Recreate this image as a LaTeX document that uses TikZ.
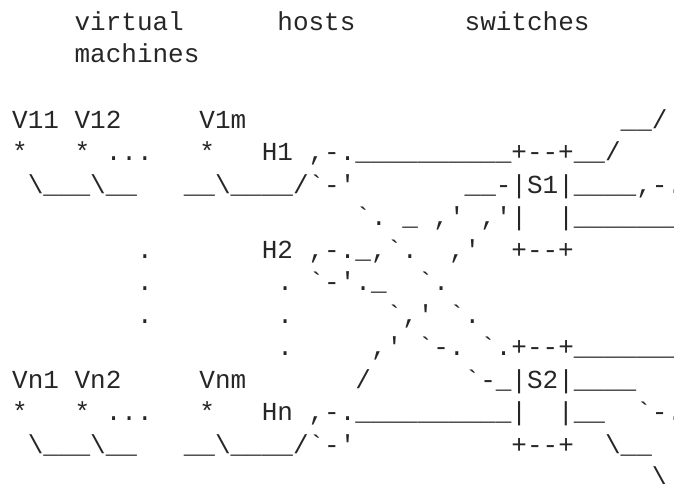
\documentclass[tikz,border=0pt]{standalone}
\usepackage{fontspec}
\setmonofont{Liberation Mono}
% one blank character cell of the monospaced font, repeated #1 times
\newcommand\gap[1]{\hspace*{\dimexpr 0.6001em*#1\relax}}
\newcommand\bs{\textbackslash}
\begin{document}
\begin{tikzpicture}[x=1pt,y=1pt,
  asciirow/.style={inner sep=0pt,outer sep=0pt,anchor=base west,text=black!85,
    font=\ttfamily\fontsize{26pt}{32.5pt}\selectfont}]
\useasboundingbox (0,0) rectangle (674,483);
\clip (0,0) rectangle (674,483);
% rows of the drawing; row r sits on baseline 483-(30.5+32.5r)
\node[asciirow] (r0) at (12.2,452.5) {\gap{4}virtual\gap{6}hosts\gap{7}switches};
\node[asciirow] (r1) at (12.2,420) {\gap{4}machines};
\node[asciirow] (r3) at (12.2,355) {V11\gap{1}V12\gap{5}V1m\gap{24}\_\_/};
\node[asciirow] (r4) at (12.2,322.5) {*\gap{3}*\gap{1}...\gap{3}*\gap{3}H1\gap{1},-.\_\_\_\_\_\_\_\_\_\_+--+\_\_/};
\node[asciirow] (r5) at (12.2,290) {\gap{1}\bs\_\_\_\bs\_\_\gap{3}\_\_\bs\_\_\_\_/`-'\gap{7}\_\_-|S1|\_\_\_\_,-.};
\node[asciirow] (r6) at (12.2,257.5) {\gap{22}`.\gap{1}\_\gap{1},'\gap{1},'|\gap{2}|\_\_\_\_\_\_\_\_};
\node[asciirow] (r7) at (12.2,225) {\gap{8}.\gap{7}H2\gap{1},-.\_,`.\gap{2},'\gap{2}+--+};
\node[asciirow] (r8) at (12.2,192.5) {\gap{8}.\gap{8}.\gap{1}`-'.\_\gap{2}`.};
\node[asciirow] (r9) at (12.2,160) {\gap{8}.\gap{8}.\gap{6}`,'\gap{1}`.};
\node[asciirow] (r10) at (12.2,127.5) {\gap{17}.\gap{5},'\gap{1}`-.\gap{1}`.+--+\_\_\_\_\_\_\_\_};
\node[asciirow] (r11) at (12.2,95) {Vn1\gap{1}Vn2\gap{5}Vnm\gap{7}/\gap{6}`-\_|S2|\_\_\_\_};
\node[asciirow] (r12) at (12.2,62.5) {*\gap{3}*\gap{1}...\gap{3}*\gap{3}Hn\gap{1},-.\_\_\_\_\_\_\_\_\_\_|\gap{2}|\_\_\gap{2}`-.};
\node[asciirow] (r13) at (12.2,30) {\gap{1}\bs\_\_\_\bs\_\_\gap{3}\_\_\bs\_\_\_\_/`-'\gap{10}+--+\gap{2}\bs\_\_};
\node[asciirow] (r14) at (12.2,-2.5) {\gap{41}\bs};
\end{tikzpicture}
\end{document}
